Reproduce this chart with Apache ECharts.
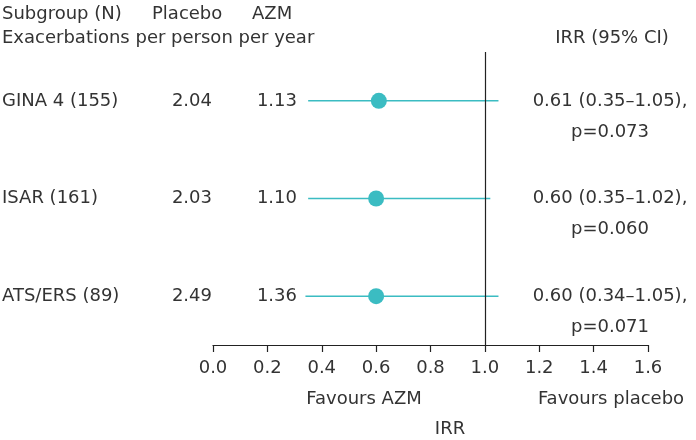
<!DOCTYPE html>
<html>
<head>
<meta charset="utf-8">
<script src="https://cdn.jsdelivr.net/npm/echarts@6/dist/echarts.min.js"></script>
<style>
  html, body { margin: 0; padding: 0; background: #fff; }
  #main { width: 696px; height: 440px; }
</style>
</head>
<body>
<div id="main"></div>
<script>
const subgroups = ['GINA 4 (155)', 'ISAR (161)', 'ATS/ERS (89)']
const placebo = ['2.04', '2.03', '2.49']
const azm = ['1.13', '1.10', '1.36']
const irr = [0.61, 0.60, 0.60]
const ciLow = [0.35, 0.35, 0.34]
const ciHigh = [1.05, 1.02, 1.05]
const pValues = ['0.073', '0.060', '0.071']
const xTicks = [0, 0.2, 0.4, 0.6, 0.8, 1.0, 1.2, 1.4, 1.6]

const teal = '#3bbcc2'
const textColor = '#333333'
const font = '"DejaVu Sans", sans-serif'

const chart = echarts.init(document.getElementById('main'))

const ciSeries = subgroups.map((name, i) => ({
  type: 'line',
  name: name,
  data: [[ciLow[i], i], [ciHigh[i], i]],
  symbol: 'none',
  lineStyle: { color: teal, width: 1.5 },
  silent: true,
  z: 2
}))

const option = {
  animation: false,
  backgroundColor: '#fff',
  grid: { left: 213, right: 48, top: 52, bottom: 95 },
  xAxis: {
    type: 'value',
    min: 0,
    max: 1.6,
    interval: 0.2,
    axisLine: { show: true, onZero: false, lineStyle: { color: '#222', width: 1.2 } },
    axisTick: { show: true, length: 7, lineStyle: { color: '#222', width: 1.2 } },
    splitLine: { show: false },
    axisLabel: {
      color: textColor,
      fontSize: 18,
      fontFamily: font,
      margin: 14,
      formatter: v => xTicks.includes(+v.toFixed(1)) ? v.toFixed(1) : ''
    }
  },
  yAxis: {
    type: 'value',
    min: -0.5,
    max: 2.5,
    inverse: true,
    show: false
  },
  series: [
    ...ciSeries,
    {
      type: 'line',
      data: [],
      markLine: {
        silent: true,
        symbol: 'none',
        label: { show: false },
        lineStyle: { color: '#222', width: 1.2, type: 'solid' },
        data: [{ xAxis: 1 }]
      }
    },
    {
      type: 'scatter',
      data: irr.map((v, i) => [v, i]),
      symbolSize: 16,
      itemStyle: { color: teal, opacity: 1 },
      z: 5
    }
  ]
}

chart.setOption(option)

function txt(x, y, text, align, size) {
  return {
    type: 'text',
    x: x,
    y: y,
    style: {
      text: text,
      fill: textColor,
      font: (size || 18) + 'px ' + font,
      textAlign: align || 'left',
      textVerticalAlign: 'middle'
    },
    silent: true
  }
}

const graphics = [
  txt(2, 14, 'Subgroup (N)'),
  txt(152, 14, 'Placebo'),
  txt(252, 14, 'AZM'),
  txt(2, 38, 'Exacerbations per person per year'),
  txt(612, 38, 'IRR (95% CI)', 'center'),
  txt(364, 399, 'Favours AZM', 'center'),
  txt(611, 399, 'Favours placebo', 'center'),
  txt(450, 429, 'IRR', 'center')
]

subgroups.forEach((name, i) => {
  const y = chart.convertToPixel({ gridIndex: 0 }, [0, i])[1]
  graphics.push(txt(2, y, name))
  graphics.push(txt(212, y, placebo[i], 'right'))
  graphics.push(txt(297, y, azm[i], 'right'))
  graphics.push(txt(610, y, irr[i].toFixed(2) + ' (' + ciLow[i].toFixed(2) + '\u2013' + ciHigh[i].toFixed(2) + '),', 'center'))
  graphics.push(txt(610, y + 31, 'p=' + pValues[i], 'center'))
})

chart.setOption({ graphic: graphics })
</script>
</body>
</html>
